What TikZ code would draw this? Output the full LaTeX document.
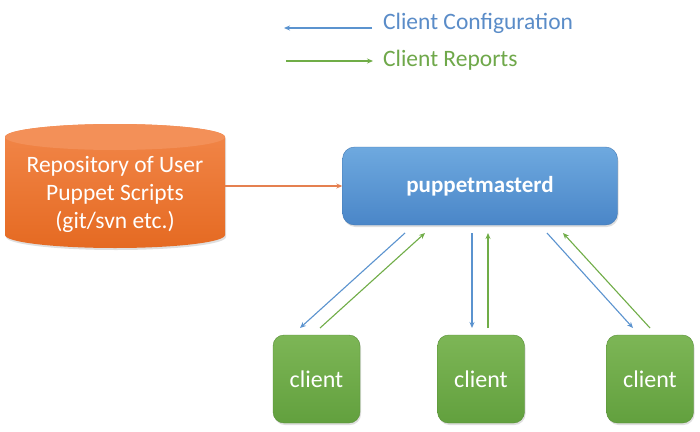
\documentclass[tikz,border=0pt]{standalone}
\usepackage{fontspec}
\setmainfont{Carlito}
\usetikzlibrary{arrows.meta,shadows}
\definecolor{blueTop}{HTML}{6EA9DF}
\definecolor{blueBot}{HTML}{4A86C8}
\definecolor{greenTop}{HTML}{7DB656}
\definecolor{greenBot}{HTML}{62A03E}
\definecolor{orTop}{HTML}{F2874A}
\definecolor{orBot}{HTML}{E56A22}
\definecolor{orFace}{HTML}{F39058}
\definecolor{arrBlue}{HTML}{5B93CF}
\definecolor{arrGreen}{HTML}{70AD47}
\definecolor{arrOr}{HTML}{E58050}
\definecolor{legBlue}{HTML}{5A8CC8}
\definecolor{legGreen}{HTML}{6FA84A}
\tikzset{
  boxshadow/.style={drop shadow={opacity=0.25,shadow xshift=1pt,shadow yshift=-2pt}},
  master/.style={rounded corners=12pt, minimum width=275pt, minimum height=78pt,
    top color=blueTop, bottom color=blueBot, draw=blueBot!90!black, line width=0.4pt,
    text=white, font=\fontsize{23}{26}\selectfont\bfseries, boxshadow},
  clientbox/.style={rounded corners=11pt, minimum width=87pt, minimum height=88pt,
    top color=greenTop, bottom color=greenBot, draw=greenBot!90!black, line width=0.4pt,
    text=white, font=\fontsize{24}{26}\selectfont, boxshadow},
  conf/.style={draw=arrBlue, line width=1.1pt, -{Stealth[length=6pt,width=5pt]}},
  rep/.style={draw=arrGreen, line width=1.1pt, -{Stealth[length=6pt,width=5pt]}},
  legtext/.style={anchor=west, inner sep=0pt, font=\fontsize{23.5}{26}\selectfont},
}
\begin{document}
\begin{tikzpicture}[x=1pt,y=-1pt]
\useasboundingbox (0,0) rectangle (700,431);
\fill[white] (0,0) rectangle (700,431);
% legend
\coordinate (lbs) at (372,28);
\coordinate (lbe) at (284,28);
\coordinate (lgs) at (286,61);
\coordinate (lge) at (373,61);
\draw[conf] (lbs) -- (lbe);
\draw[rep] (lgs) -- (lge);
\node[legtext, text=legBlue] (lconf) at (383,23) {Client Configuration};
\node[legtext, text=legGreen] (lrep) at (383,60) {Client Reports};
% cylinder
\shade[top color=orTop, bottom color=orBot, boxshadow]
  (5,137) -- (5,235) arc[start angle=180,end angle=0,x radius=110,y radius=13]
  -- (225,137) arc[start angle=0,end angle=-180,x radius=110,y radius=13] -- cycle;
\fill[orFace] (115,137) ellipse[x radius=110,y radius=13];
\node[text=white, align=center, font=\fontsize{23.5}{28}\selectfont, inner sep=0pt,
  minimum width=220pt, minimum height=98pt] (repo) at (115,194)
  {Repository of User\\Puppet Scripts\\(git/svn etc.)};
% master
\node[master] (pm) at (480,186) {puppetmasterd};
\draw[draw=arrOr, line width=1.1pt, -{Stealth[length=6pt,width=5pt]}] (pm.west -| repo.east) -- (pm.west);
% clients
\node[clientbox] (c1) at (316.5,379) {client};
\node[clientbox] (c2) at (481,379) {client};
\node[clientbox] (c3) at (650,379) {client};
% connector end points
\coordinate (p1a) at (405,233); \coordinate (c1a) at (300,328);
\coordinate (c1b) at (320,328); \coordinate (p1b) at (425,233);
\coordinate (p2a) at (472,233); \coordinate (c2a) at (472,328);
\coordinate (c2b) at (488,328); \coordinate (p2b) at (488,233);
\coordinate (p3a) at (547,233); \coordinate (c3a) at (633,328);
\coordinate (c3b) at (650,328); \coordinate (p3b) at (563,233);
\draw[conf] (p1a) -- (c1a);
\draw[rep] (c1b) -- (p1b);
\draw[conf] (p2a) -- (c2a);
\draw[rep] (c2b) -- (p2b);
\draw[conf] (p3a) -- (c3a);
\draw[rep] (c3b) -- (p3b);
\end{tikzpicture}
\end{document}
